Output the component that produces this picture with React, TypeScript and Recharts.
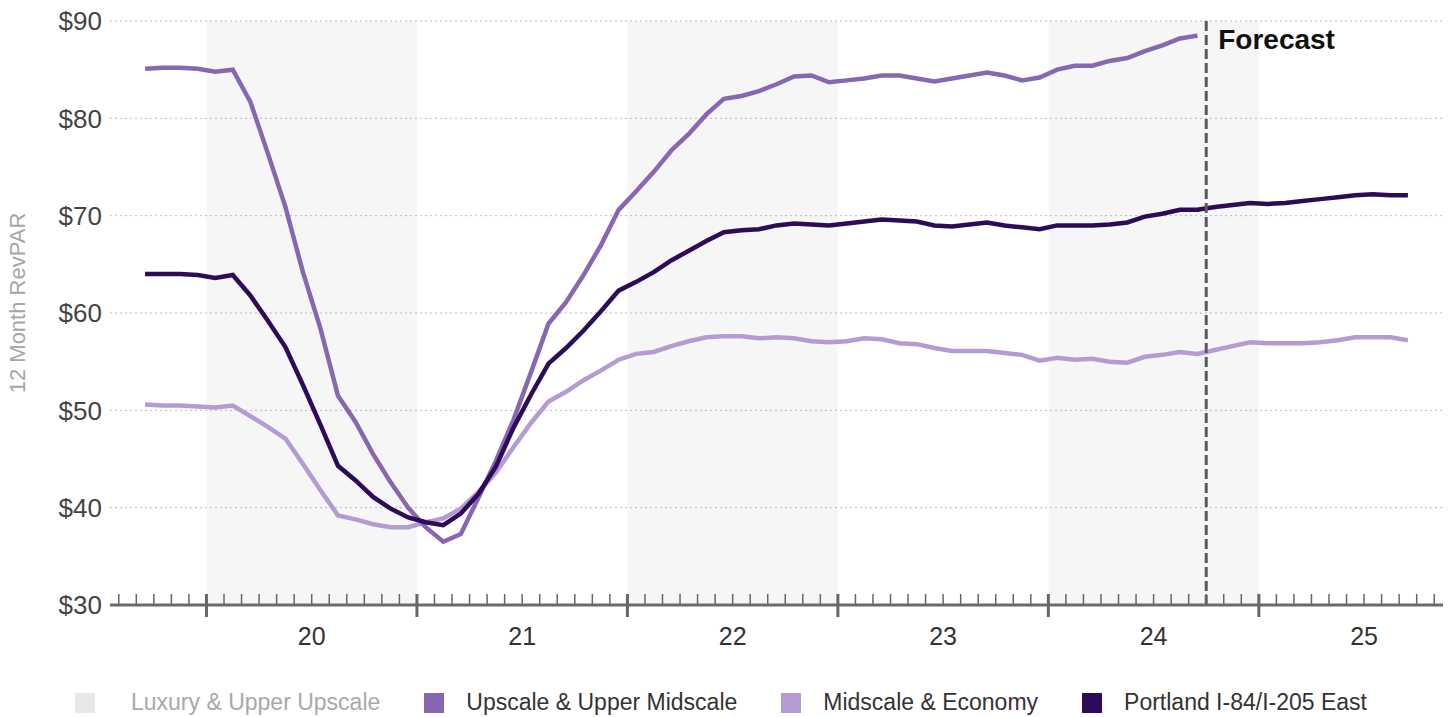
import React from 'react';
import {
  LineChart,
  Line,
  XAxis,
  YAxis,
  CartesianGrid,
  ReferenceArea,
  ReferenceLine,
} from 'recharts';

// months from Sep 2019 to Sep 2025 (index 0 = Sep 19)
const MONTHS = [
  'Sep 19', 'Oct 19', 'Nov 19', 'Dec 19',
  'Jan 20', 'Feb 20', 'Mar 20', 'Apr 20', 'May 20', 'Jun 20', 'Jul 20', 'Aug 20', 'Sep 20', 'Oct 20', 'Nov 20', 'Dec 20',
  'Jan 21', 'Feb 21', 'Mar 21', 'Apr 21', 'May 21', 'Jun 21', 'Jul 21', 'Aug 21', 'Sep 21', 'Oct 21', 'Nov 21', 'Dec 21',
  'Jan 22', 'Feb 22', 'Mar 22', 'Apr 22', 'May 22', 'Jun 22', 'Jul 22', 'Aug 22', 'Sep 22', 'Oct 22', 'Nov 22', 'Dec 22',
  'Jan 23', 'Feb 23', 'Mar 23', 'Apr 23', 'May 23', 'Jun 23', 'Jul 23', 'Aug 23', 'Sep 23', 'Oct 23', 'Nov 23', 'Dec 23',
  'Jan 24', 'Feb 24', 'Mar 24', 'Apr 24', 'May 24', 'Jun 24', 'Jul 24', 'Aug 24', 'Sep 24', 'Oct 24', 'Nov 24', 'Dec 24',
  'Jan 25', 'Feb 25', 'Mar 25', 'Apr 25', 'May 25', 'Jun 25', 'Jul 25', 'Aug 25', 'Sep 25',
];

const UPSCALE = [
  85.1, 85.2, 85.2, 85.1,
  84.8, 85.0, 81.7, 76.4, 70.9, 64.2, 58.4, 51.5, 48.8, 45.5, 42.6, 40.0,
  38.0, 36.5, 37.3, 41.0, 44.8, 49.0, 53.9, 58.9, 61.1, 63.9, 67.0, 70.6,
  72.5, 74.5, 76.7, 78.4, 80.4, 82.0, 82.3, 82.8, 83.5, 84.3, 84.4, 83.7,
  83.9, 84.1, 84.4, 84.4, 84.1, 83.8, 84.1, 84.4, 84.7, 84.4, 83.9, 84.2,
  85.0, 85.4, 85.4, 85.9, 86.2, 86.9, 87.5, 88.2, 88.5,
];

const MIDSCALE = [
  50.6, 50.5, 50.5, 50.4,
  50.3, 50.5, 49.4, 48.3, 47.1, 44.5, 41.8, 39.2, 38.8, 38.3, 38.0, 38.0,
  38.5, 38.9, 39.9, 41.6, 43.6, 46.2, 48.7, 50.9, 51.9, 53.1, 54.1, 55.2,
  55.8, 56.0, 56.6, 57.1, 57.5, 57.6, 57.6, 57.4, 57.5, 57.4, 57.1, 57.0,
  57.1, 57.4, 57.3, 56.9, 56.8, 56.4, 56.1, 56.1, 56.1, 55.9, 55.7, 55.1,
  55.4, 55.2, 55.3, 55.0, 54.9, 55.5, 55.7, 56.0, 55.8, 56.2, 56.6, 57.0,
  56.9, 56.9, 56.9, 57.0, 57.2, 57.5, 57.5, 57.5, 57.2,
];

const PORTLAND = [
  64.0, 64.0, 64.0, 63.9,
  63.6, 63.9, 61.8, 59.2, 56.5, 52.6, 48.5, 44.3, 42.8, 41.1, 39.9, 39.0,
  38.5, 38.2, 39.4, 41.4, 44.2, 48.2, 51.6, 54.8, 56.4, 58.2, 60.2, 62.3,
  63.2, 64.2, 65.4, 66.4, 67.4, 68.3, 68.5, 68.6, 69.0, 69.2, 69.1, 69.0,
  69.2, 69.4, 69.6, 69.5, 69.4, 69.0, 68.9, 69.1, 69.3, 69.0, 68.8, 68.6,
  69.0, 69.0, 69.0, 69.1, 69.3, 69.9, 70.2, 70.6, 70.6, 70.9, 71.1, 71.3,
  71.2, 71.3, 71.5, 71.7, 71.9, 72.1, 72.2, 72.1, 72.1,
];

const YEAR_LABELS = ['20', '21', '22', '23', '24', '25'];
const Y_TICKS = [30, 40, 50, 60, 70, 80, 90];
// shaded years: 2020, 2022, 2024 (month-boundary positions)
const SHADED_YEARS = [[3.5, 15.5], [27.5, 39.5], [51.5, 63.5]];
const FORECAST_AT = 60.5;

const LEGEND = [
  { label: 'Luxury & Upper Upscale', color: '#e8e8e8', text: '#a9a9a9' },
  { label: 'Upscale & Upper Midscale', color: '#8767b1', text: '#333' },
  { label: 'Midscale & Economy', color: '#b49bd3', text: '#333' },
  { label: 'Portland I-84/I-205 East', color: '#2d0b58', text: '#333' },
];

const FONT = '"Liberation Sans", Arial, sans-serif';

const rows = MONTHS.map((m, i) => ({
  idx: i,
  month: m,
  upscale: i < UPSCALE.length ? UPSCALE[i] : null,
  midscale: MIDSCALE[i],
  portland: PORTLAND[i],
}));

// tick at every month boundary, from Aug 2019 to Nov 2025
const monthTicks: number[] = [];
for (let k = -1; k <= 74; k++) monthTicks.push(k - 0.5);

const MonthTick = (props: any) => {
  const { x, y, payload } = props;
  const k = Math.round(payload.value + 0.5);
  const moy = (k + 8) % 12; // 0 = Jan
  const yearIdx = Math.floor((k + 8) / 12) - 1;
  return (
    <g>
      <line
        x1={x}
        x2={x}
        y1={y - 11}
        y2={moy === 0 ? y + 12 : y}
        stroke="#666"
        strokeWidth={moy === 0 ? 3 : 1.5}
      />
      {moy === 6 && (
        <text x={x} y={y + 40} textAnchor="middle" fontSize={25} fill="#333" fontFamily={FONT}>
          {YEAR_LABELS[yearIdx]}
        </text>
      )}
    </g>
  );
};

const App: React.FC = () => {
  return (
    <div style={{ position: 'absolute', left: 0, top: 0, width: 1452, height: 717, background: '#fff', fontFamily: FONT }}>
      <LineChart
        width={1452}
        height={717}
        data={rows}
        margin={{ top: 21, right: 9, bottom: 82, left: 0 }}
      >
        <CartesianGrid vertical={false} stroke="#bdbdbd" strokeDasharray="2 3" />

        {SHADED_YEARS.map(([a, b]) => (
          <ReferenceArea key={a} x1={a} x2={b} fill="#000" fillOpacity={0.035} stroke="none" ifOverflow="visible" />
        ))}

        <XAxis
          dataKey="idx"
          type="number"
          domain={[-2, 74]}
          ticks={monthTicks}
          interval={0}
          tickSize={0}
          tickMargin={0}
          tickLine={false}
          tick={<MonthTick />}
          axisLine={{ stroke: '#6b6b6b', strokeWidth: 3 }}
          height={30}
        />
        <YAxis
          domain={[30, 90]}
          ticks={Y_TICKS}
          width={110}
          axisLine={false}
          tickLine={false}
          tickFormatter={(v) => `$${v}`}
          tick={{ fontSize: 26, fill: '#444', fontFamily: FONT }}
          label={{
            content: (p: any) => {
              const vb = p.viewBox || { y: 21, height: 584 };
              const cy = vb.y + vb.height / 2 - 10;
              return (
                <text
                  x={19}
                  y={cy}
                  transform={`rotate(-90 19 ${cy})`}
                  textAnchor="middle"
                  dominantBaseline="middle"
                  fontSize={22}
                  fill="#a6a6a6"
                  fontFamily={FONT}
                >
                  12 Month RevPAR
                </text>
              );
            },
          }}
        />

        <Line type="linear" dataKey="midscale" stroke="#b49bd3" strokeWidth={4.5} dot={false} isAnimationActive={false} />
        <Line type="linear" dataKey="upscale" stroke="#8767b1" strokeWidth={4.5} dot={false} isAnimationActive={false} />
        <Line type="linear" dataKey="portland" stroke="#2d0b58" strokeWidth={4.5} dot={false} isAnimationActive={false} />

        <ReferenceLine
          x={FORECAST_AT}
          stroke="#5a5a5a"
          strokeWidth={3}
          strokeDasharray="10 4"
          label={{
            content: (p: any) => {
              const vb = p.viewBox || { x: 0, y: 0 };
              return (
                <text x={vb.x + 12} y={vb.y + 28} fontSize={28} fontWeight="bold" fill="#111" fontFamily={FONT}>
                  Forecast
                </text>
              );
            },
          }}
        />
      </LineChart>

      <div
        style={{
          position: 'absolute',
          left: 75,
          top: 689,
          display: 'flex',
          alignItems: 'center',
          gap: 44,
          fontSize: 23,
          whiteSpace: 'nowrap',
        }}
      >
        {LEGEND.map((item, i) => (
          <div key={item.label} style={{ display: 'flex', alignItems: 'center' }}>
            <span
              style={{
                display: 'inline-block',
                width: 20,
                height: 20,
                background: item.color,
                marginRight: i === 0 ? 36 : 22,
              }}
            />
            <span style={{ color: item.text }}>{item.label}</span>
          </div>
        ))}
      </div>
    </div>
  );
};

export default App;
